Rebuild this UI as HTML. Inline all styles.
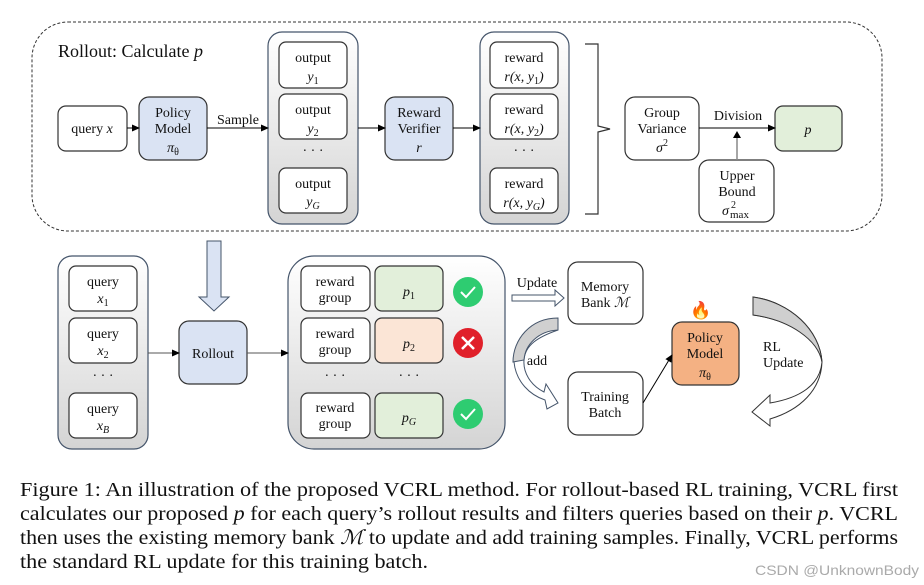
<!DOCTYPE html>
<html><head><meta charset="utf-8"><style>
html,body{margin:0;padding:0;background:#fff;}
svg{display:block;}
text{font-family:"Liberation Serif",serif;fill:#111;}
.m{font-style:italic;}
</style></head><body>
<svg width="924" height="585" viewBox="0 0 924 585" xmlns="http://www.w3.org/2000/svg">
<defs>
<linearGradient id="g" x1="0" y1="0" x2="0" y2="1"><stop offset="0" stop-color="#ffffff"/><stop offset="1" stop-color="#d4d4d4"/></linearGradient>
<marker id="a" markerWidth="8" markerHeight="8" refX="7" refY="4" orient="auto" markerUnits="userSpaceOnUse"><path d="M0,0.5 L8,4 L0,7.5z" fill="#000"/></marker>
</defs>
<rect x="32" y="22" width="850" height="209" rx="36" fill="none" stroke="#333" stroke-dasharray="3,2" stroke-width="1"/>
<text x="58" y="57" font-size="18">Rollout: Calculate <tspan class="m">p</tspan></text>

<g stroke="#333" stroke-width="1.2">
<rect x="58" y="106" width="69" height="45" rx="8" fill="#fff"/>
<rect x="139" y="97" width="68" height="63" rx="10" fill="#dae3f3"/>
<rect x="268" y="32" width="90" height="192" rx="14" fill="url(#g)" stroke="#44546a"/>
<rect x="279" y="42" width="68" height="46" rx="7" fill="#fff"/>
<rect x="279" y="94" width="68" height="45" rx="7" fill="#fff"/>
<rect x="279" y="168" width="68" height="45" rx="7" fill="#fff"/>
<rect x="385" y="97" width="68" height="63" rx="10" fill="#dae3f3"/>
<rect x="480" y="32" width="89" height="192" rx="14" fill="url(#g)" stroke="#44546a"/>
<rect x="490" y="42" width="68" height="46" rx="7" fill="#fff"/>
<rect x="490" y="94" width="68" height="45" rx="7" fill="#fff"/>
<rect x="490" y="168" width="68" height="45" rx="7" fill="#fff"/>
<rect x="625" y="97" width="74" height="63" rx="10" fill="#fff"/>
<rect x="775" y="106" width="67" height="45" rx="8" fill="#e2efda"/>
<rect x="699" y="160" width="75" height="62" rx="10" fill="#fff"/>
</g>
<path d="M585,44 H598 V126 L610,129 L598,132 V214 H585" fill="none" stroke="#333" stroke-width="1.2"/>
<g stroke="#000" stroke-width="1" fill="none" marker-end="url(#a)">
<line x1="127" y1="128" x2="139" y2="128"/>
<line x1="207" y1="128" x2="268" y2="128"/>
<line x1="358" y1="128" x2="385" y2="128"/>
<line x1="453" y1="128" x2="480" y2="128"/>
<line x1="699" y1="128" x2="775" y2="128"/>
</g>
<line x1="737" y1="160" x2="737" y2="136" stroke="#888" stroke-width="1.5"/>
<path d="M733,138 L737,131 L741,138z" fill="#000"/>

<g font-size="14" text-anchor="middle">
<text x="92" y="133">query <tspan class="m">x</tspan></text>
<text x="173" y="117">Policy</text><text x="173" y="133">Model</text><text x="173" y="152" class="m">π<tspan font-size="10" font-style="normal" dy="3">θ</tspan></text>
<text x="238" y="124">Sample</text>
<text x="313" y="62">output</text><text x="313" y="81" class="m">y<tspan font-size="10" font-style="normal" dy="3">1</tspan></text>
<text x="313" y="114">output</text><text x="313" y="133" class="m">y<tspan font-size="10" font-style="normal" dy="3">2</tspan></text>
<text x="313" y="155">· · ·</text>
<text x="313" y="188">output</text><text x="313" y="206" class="m">y<tspan font-size="10" dy="3">G</tspan></text>
<text x="419" y="117">Reward</text><text x="419" y="133">Verifier</text><text x="419" y="152" class="m">r</text>
<text x="524" y="62">reward</text><text x="524" y="81" class="m">r(x, y<tspan font-size="10" font-style="normal" dy="3">1</tspan><tspan dy="-3">)</tspan></text>
<text x="524" y="114">reward</text><text x="524" y="133" class="m">r(x, y<tspan font-size="10" font-style="normal" dy="3">2</tspan><tspan dy="-3">)</tspan></text>
<text x="524" y="155">· · ·</text>
<text x="524" y="188">reward</text><text x="524" y="207" class="m">r(x, y<tspan font-size="10" dy="3">G</tspan><tspan dy="-3">)</tspan></text>
<text x="662" y="117">Group</text><text x="662" y="133">Variance</text><text x="662" y="152" class="m">σ<tspan font-size="10" font-style="normal" dy="-6">2</tspan></text>
<text x="738" y="120">Division</text>
<text x="808" y="134" class="m">p</text>
<text x="737" y="180">Upper</text><text x="737" y="196">Bound</text>
</g>
<text x="722" y="215" font-size="14" class="m">σ</text>
<text x="731" y="208" font-size="10">2</text>
<text x="730" y="218" font-size="11">max</text>

<path d="M207,241 H221 V297 H229 L214,311 L199,297 H207z" fill="#dae3f3" stroke="#44546a" stroke-width="1"/>

<g stroke="#333" stroke-width="1.2">
<rect x="58" y="256" width="90" height="193" rx="14" fill="url(#g)" stroke="#44546a"/>
<rect x="69" y="266" width="68" height="45" rx="7" fill="#fff"/>
<rect x="69" y="318" width="68" height="45" rx="7" fill="#fff"/>
<rect x="69" y="393" width="68" height="45" rx="7" fill="#fff"/>
<rect x="179" y="321" width="68" height="63" rx="10" fill="#dae3f3"/>
<rect x="288" y="256" width="217" height="193" rx="26" fill="url(#g)" stroke="#44546a"/>
<rect x="301" y="266" width="69" height="45" rx="7" fill="#fff"/>
<rect x="301" y="318" width="69" height="45" rx="7" fill="#fff"/>
<rect x="301" y="393" width="69" height="45" rx="7" fill="#fff"/>
<rect x="375" y="266" width="68" height="45" rx="7" fill="#e2efda"/>
<rect x="375" y="318" width="68" height="45" rx="7" fill="#fbe5d6"/>
<rect x="375" y="393" width="68" height="45" rx="7" fill="#e2efda"/>
<rect x="568" y="262" width="75" height="62" rx="10" fill="#fff"/>
<rect x="568" y="372" width="75" height="63" rx="10" fill="#fff"/>
<rect x="672" y="322" width="67" height="63" rx="10" fill="#f4b183"/>
</g>
<g stroke="#555" stroke-width="1" fill="none" marker-end="url(#a)">
<line x1="148" y1="353" x2="179" y2="353"/>
<line x1="247" y1="353" x2="288" y2="353"/>
<line x1="643" y1="403" x2="672" y2="355" stroke="#000"/>
</g>
<circle cx="468" cy="292" r="15" fill="#2ecc71"/><path d="M461,292 L466,297 L475,287" stroke="#fff" stroke-width="2" fill="none"/>
<circle cx="468" cy="343" r="15" fill="#e0202a"/><path d="M462,337 L474,349 M474,337 L462,349" stroke="#fff" stroke-width="2.5"/>
<circle cx="468" cy="414" r="15" fill="#2ecc71"/><path d="M461,414 L466,419 L475,409" stroke="#fff" stroke-width="2" fill="none"/>

<path d="M512,295 H555 V290 L564,298 L555,306 V301 H512z" fill="#fff" stroke="#44546a" stroke-width="1"/>
<path d="M558,318 V330 C535,330 515,345 514,362 C516,382 530,395 545,400 L547,409 L558,403 L546,384 L544,392 C530,385 523,372 524,360 C525,345 538,337 558,330" fill="#fff" stroke="#44546a" stroke-width="1"/>
<path d="M558,318 C530,318 513,340 513,362 L524,360 C525,345 538,331 558,330z" fill="#d0d0d0" stroke="#44546a" stroke-width="1"/>
<path d="M753,297 V315 C790,320 820,340 822,362 C820,385 800,398 770,403 L770,395 L752,412 L770,426 L770,419 C800,410 821,390 822,362 C820,330 790,302 753,297z" fill="#fff" stroke="#333" stroke-width="1"/>
<path d="M753,297 V315 C790,320 818,340 822,362 C820,330 790,302 753,297z" fill="#cfcfcf" stroke="#333" stroke-width="1"/>
<text x="701" y="316" font-size="17" text-anchor="middle">🔥</text>

<g font-size="14" text-anchor="middle">
<text x="103" y="286">query</text><text x="103" y="303" class="m">x<tspan font-size="10" font-style="normal" dy="3">1</tspan></text>
<text x="103" y="338">query</text><text x="103" y="355" class="m">x<tspan font-size="10" font-style="normal" dy="3">2</tspan></text>
<text x="103" y="380">· · ·</text>
<text x="103" y="413">query</text><text x="103" y="430" class="m">x<tspan font-size="10" dy="3">B</tspan></text>
<text x="213" y="358">Rollout</text>
<text x="335" y="286">reward</text><text x="335" y="302">group</text>
<text x="335" y="338">reward</text><text x="335" y="354">group</text>
<text x="335" y="380">· · ·</text>
<text x="409" y="380">· · ·</text>
<text x="335" y="412">reward</text><text x="335" y="428">group</text>
<text x="409" y="296" class="m">p<tspan font-size="10" font-style="normal" dy="3">1</tspan></text>
<text x="409" y="348" class="m">p<tspan font-size="10" font-style="normal" dy="3">2</tspan></text>
<text x="409" y="422" class="m">p<tspan font-size="10" dy="3">G</tspan></text>
<text x="537" y="287">Update</text>
<text x="537" y="365">add</text>
<text x="605" y="291">Memory</text><text x="605" y="307">Bank <tspan class="m">ℳ</tspan></text>
<text x="605" y="401">Training</text><text x="605" y="417">Batch</text>
<text x="705" y="342">Policy</text><text x="705" y="358">Model</text><text x="705" y="377" class="m">π<tspan font-size="10" font-style="normal" dy="3">θ</tspan></text>
</g>
<text x="763" y="351" font-size="14">RL</text>
<text x="763" y="367" font-size="14">Update</text>

<g font-size="20">
<text x="20" y="496" textLength="878" lengthAdjust="spacingAndGlyphs">Figure 1: An illustration of the proposed VCRL method. For rollout-based RL training, VCRL first</text>
<text x="20" y="520" textLength="878" lengthAdjust="spacingAndGlyphs">calculates our proposed <tspan class="m">p</tspan> for each query’s rollout results and filters queries based on their <tspan class="m">p</tspan>. VCRL</text>
<text x="20" y="544" textLength="878" lengthAdjust="spacingAndGlyphs">then uses the existing memory bank <tspan class="m">ℳ</tspan> to update and add training samples. Finally, VCRL performs</text>
<text x="20" y="568" textLength="408" lengthAdjust="spacingAndGlyphs">the standard RL update for this training batch.</text>
</g>
<text x="755" y="575" font-size="14" style="font-family:'Liberation Sans',sans-serif;fill:#aaa" textLength="164" lengthAdjust="spacingAndGlyphs">CSDN @UnknownBody</text>
</svg>
</body></html>
